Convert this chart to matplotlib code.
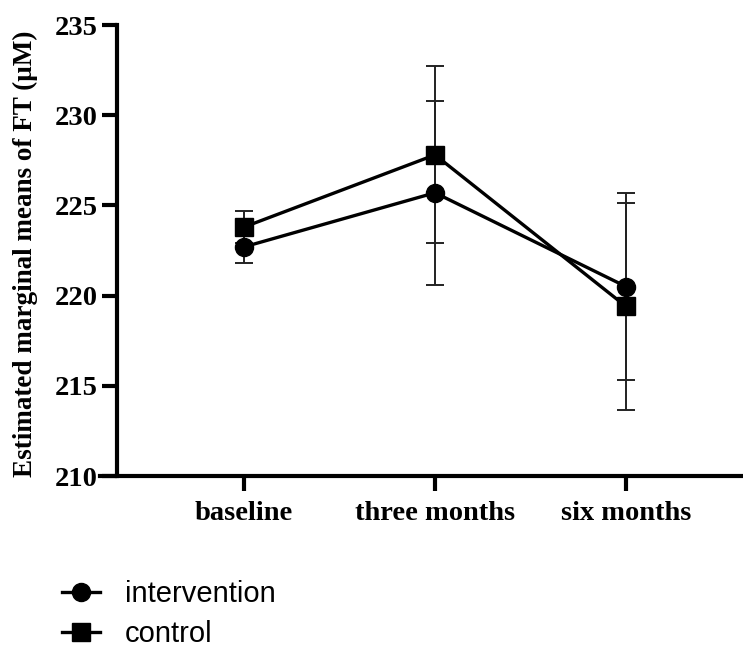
import matplotlib
matplotlib.use("Agg")
import matplotlib.pyplot as plt
from matplotlib.lines import Line2D

categories = ["baseline", "three months", "six months"]
intervention_mean = [222.7, 225.7, 220.5]
intervention_err = [0.9, 5.1, 5.2]
control_mean = [223.8, 227.8, 219.4]
control_err = [0.9, 4.9, 5.75]
yticks = [210, 215, 220, 225, 230, 235]

W, H = 743, 650
fig = plt.figure(figsize=(W / 100, H / 100), dpi=100)
ax = fig.add_axes([100 / W, (H - 476) / H, (W - 100) / W, (476 - 25) / H])

x = list(range(len(categories)))
for mean, err, marker, ms, label in [
    (intervention_mean, intervention_err, "o", 13, "intervention"),
    (control_mean, control_err, "s", 12.5, "control"),
]:
    ax.errorbar(x, mean, yerr=err, fmt="none", ecolor="#222222",
                elinewidth=1.4, capsize=6.5, capthick=1.4, zorder=2)
    ax.plot(x, mean, color="black", lw=2.4, marker=marker, ms=ms,
            mfc="black", mec="black", zorder=3, label=label)

px = 191.0
ax.set_xlim((100 - 244) / px, (W - 244) / px)
ax.set_ylim(210, 235)
ax.spines["left"].set_position(("data", (117 - 244) / px))
ax.spines["right"].set_visible(False)
ax.spines["top"].set_visible(False)
for s in ["left", "bottom"]:
    ax.spines[s].set_linewidth(3.0)
ax.spines["bottom"].set_zorder(1)

ax.set_xticks(x)
ax.set_xticklabels(categories)
ax.set_yticks(yticks)
ax.tick_params(axis="both", width=3.0, length=11, direction="out")
ax.tick_params(axis="y", pad=3)
ax.tick_params(axis="x", pad=7)
for lab in ax.get_xticklabels() + ax.get_yticklabels():
    lab.set_fontfamily("Liberation Serif")
    lab.set_fontweight("bold")
    lab.set_fontsize(20.5)

fig.text(25 / W, 1 - 254 / H, "Estimated marginal means of FT (μM)",
         rotation=90, ha="center", va="center",
         fontfamily="Liberation Serif", fontweight="bold", fontsize=19.5)

handles = [
    Line2D([], [], color="black", lw=2.4, marker="o", ms=13),
    Line2D([], [], color="black", lw=2.4, marker="s", ms=12.5),
]
fig.legend(handles, ["intervention", "control"], loc="upper left",
           bbox_to_anchor=(62 / W, 1 - 580 / H), frameon=False,
           borderaxespad=0, borderpad=0,
           prop={"family": "Liberation Sans", "size": 21},
           handlelength=1.3, handletextpad=0.85, labelspacing=0.42)

fig.savefig("out.png", dpi=100)
